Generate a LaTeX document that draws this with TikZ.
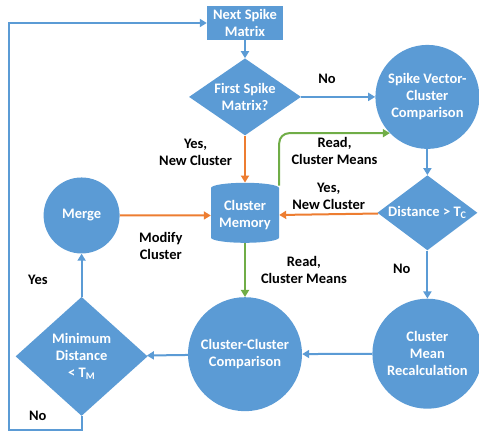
\documentclass[tikz,border=0pt]{standalone}
\usepackage{fontspec}
\setmainfont{Carlito}
\usetikzlibrary{arrows.meta,shapes,positioning,calc}
\usepackage{xcolor}
\definecolor{flowblue}{HTML}{5B9BD5}
\definecolor{floworange}{HTML}{ED7D31}
\definecolor{flowgreen}{HTML}{70AD47}

\begin{document}
\begin{tikzpicture}[x=1pt, y=1pt, node distance=1cm, >={Triangle[length=7pt,width=8pt]},
    blk/.style={fill=flowblue, text=white, font=\bfseries\fontsize{14.5}{17}\selectfont, align=center, inner sep=0pt},
    lbl/.style={font=\bfseries\fontsize{14.5}{17}\selectfont, align=center, inner sep=0pt},
    blueline/.style={->, draw=flowblue, line width=2pt},
    orangeline/.style={->, draw=floworange, line width=2pt},
    greenline/.style={->, draw=flowgreen, line width=2pt}]
        \useasboundingbox (0,0) rectangle (479,434);
        \node [blk, rectangle, minimum width=76pt, minimum height=34pt] (next) at (245,411) {Next Spike\\Matrix};
        \node [blk, diamond, aspect=1.45, minimum width=112pt, minimum height=77pt, below=18pt of next] (first) {First Spike\\Matrix?};
        \node [blk, cylinder, shape border rotate=90, aspect=0.2, minimum width=68pt, minimum height=60pt, below=47pt of first] (cmem) {Cluster\\Memory};
        \node [blk, circle, minimum size=104pt, right=74pt of first] (svc) {Spike Vector-\\Cluster\\Comparison};
        \node [blk, diamond, aspect=1.33, minimum width=100pt, minimum height=75pt, below=26pt of svc] (dist) {Distance > T\textsubscript{C}};
        \node [blk, circle, minimum size=76pt, left=91pt of cmem] (merge) {Merge};
        \node [blk, circle, minimum size=114pt, below=54pt of cmem] (ccc) {Cluster-Cluster\\Comparison};
        \node [blk, circle, minimum size=110pt, below=48pt of dist] (cmr) {Cluster\\Mean\\Recalculation};
        \node [blk, diamond, aspect=1.1, minimum width=132pt, minimum height=119pt, below=43pt of merge] (mind) {Minimum\\Distance\\< T\textsubscript{M}};
        \coordinate (loopcorner) at (9,4);

        \draw[blueline] (next) -- (first);
        \draw[blueline] (first) -- node[lbl, pos=0.35, above=12pt] (lno1) {No} (svc);
        \draw[orangeline] (first) -- node[lbl, pos=0.36, left=12pt] (lyes1) {Yes,\\New Cluster} (cmem);
        \draw[greenline, rounded corners=10pt] ($(cmem.east |- cmem.north)+(0,-3)$) |- node[lbl, pos=0.75, below=3.5pt] (lread1) {Read,\\Cluster Means} (svc.224);
        \draw[blueline] (svc) -- (dist);
        \draw[orangeline] (dist) -- node[lbl, above=4pt] (lyes2) {Yes,\\New Cluster} (cmem);
        \draw[orangeline] (merge) -- node[lbl, pos=0.45, below=16pt] (lmod) {Modify\\Cluster} (cmem);
        \draw[greenline] (cmem) -- node[lbl, right=15pt] (lread2) {Read,\\Cluster Means} (ccc);
        \draw[blueline] (dist) -- node[lbl, pos=0.375, left=16pt] (lno2) {No} (cmr);
        \draw[blueline] (cmr) -- (ccc);
        \draw[blueline] (ccc) -- (mind);
        \draw[blueline] (mind) -- node[lbl, pos=0.4, left=33pt] (lyes3) {Yes} (merge);
        \draw[blueline] (mind.south) |- (loopcorner) |- (next.west);
        \node [lbl, left=35pt of mind.south] (lno3) {No};
    \end{tikzpicture}
\end{document}
